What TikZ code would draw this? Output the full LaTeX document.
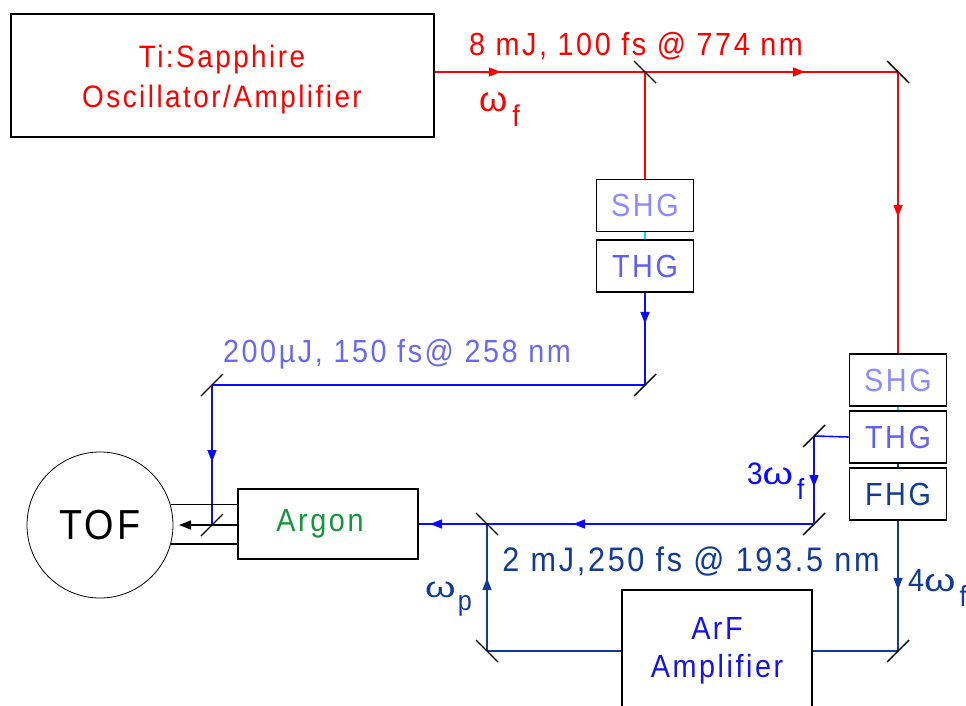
\documentclass[tikz,border=0pt]{standalone}
\usepackage{graphicx}
\usepackage{fontspec}
\setmainfont{Liberation Sans}[LetterSpace=8, FakeStretch=0.9]
\usetikzlibrary{arrows.meta,decorations.markings,calc}
\definecolor{beamred}{RGB}{255,0,0}
\definecolor{beamblue}{RGB}{10,10,255}
\definecolor{navy}{RGB}{18,58,152}
\definecolor{lightblue}{RGB}{140,140,255}
\definecolor{midblue}{RGB}{95,95,250}
\definecolor{labelblue}{RGB}{105,105,245}
\definecolor{arfblue}{RGB}{20,20,235}
\definecolor{argongreen}{RGB}{20,150,60}
\definecolor{cyanline}{RGB}{0,225,225}
\newcommand{\fsz}[1]{\fontsize{#1}{#1}\selectfont}
\newcommand{\wideomega}[1]{\scalebox{#1}[1]{ω}}
\begin{document}
\begin{tikzpicture}[x=1pt,y=-1pt,
  box/.style={draw=black, line width=1.8pt, fill=white, inner sep=0pt, align=center},
  smallbox/.style={box, minimum width=97pt, minimum height=52pt, font=\fsz{32}},
  beam/.style={line width=1.6pt},
  mirrorline/.style={draw=black, line width=1.4pt},
  midarr/.style={postaction={decorate}, decoration={markings, mark=at position #1 with {\arrow{Triangle[length=12pt,width=9pt]}}}}
]
\useasboundingbox (0,0) rectangle (966,706);
\clip (0,0) rectangle (966,706);

% mirror positions
\coordinate (m1) at (645,72);
\coordinate (m2) at (898,72);
\coordinate (m3) at (814,436);
\coordinate (m4) at (814,524);
\coordinate (m5) at (645,385);
\coordinate (m6) at (212,385);
\coordinate (m7) at (212,525);
\coordinate (m8) at (487,524);
\coordinate (m9) at (898,651);
\coordinate (m10) at (487,651);
\coordinate (tofin) at (179,525);

% boxes
\node[box, minimum width=423pt, minimum height=123pt] (ti) at (222.5,75.5) {};
\node[text=beamred, align=center, font=\fontsize{31}{40}\selectfont] (titext) at (222,79) {Ti:Sapphire\\Oscillator/Amplifier};
\node[smallbox, text=lightblue] (shg1) at (645,205.5) {SHG};
\node[smallbox, text=midblue] (thg1) at (645,266) {THG};
\node[smallbox, text=lightblue] (shg2) at (898,380) {SHG};
\node[smallbox, text=midblue] (thg2) at (898,437) {THG};
\node[smallbox, text=navy] (fhg) at (898,494) {FHG};
\node[box, minimum width=180pt, minimum height=70pt, text=argongreen, font=\fsz{32}] (argon) at (328,524) {Argon\hspace*{16pt}};
\node[box, minimum width=190pt, minimum height=122pt, text=arfblue, font=\fontsize{32}{38}\selectfont] (arf) at (717,651) {ArF\\Amplifier};
\node[draw=black, circle, line width=0.8pt, minimum size=146pt, inner sep=0pt, font=\fsz{42}] (tof) at (100,525) {TOF};

% red beams
\draw[beam, beamred, midarr=66pt] (ti.east |- m1) -- (m1);
\draw[beam, beamred, midarr=160pt] (m1) -- (m2);
\draw[beam, beamred] (m1) -- (shg1.north);
\draw[beam, beamred, midarr=145pt] (m2) -- (shg2.north);

% middle harmonic line
\draw[beam, cyanline] (shg1.south) -- (thg1.north);
\draw[beam, beamblue, midarr=31pt] (thg1.south) -- (m5);
\draw[beam, beamblue] (m5) -- (m6);
\draw[beam, beamblue, midarr=77pt] (m6) -- (m7);

% right harmonic stack
\draw[beam, cyanline] (shg2.south) -- (thg2.north);
\draw[beam, navy] (thg2.south) -- (fhg.north);
\draw[beam, beamblue] (thg2.west) -- (m3);
\draw[beam, beamblue, midarr=51pt] (m3) -- (m4);
\draw[beam, beamblue, midarr=241pt] (m4) -- (m8);
\draw[beam, beamblue, midarr=57pt] (m8) -- (argon.east);
\draw[beam, navy, midarr=69pt] (fhg.south) -- (m9);
\draw[beam, navy] (m9) -- (arf.east);
\draw[beam, navy] (arf.west) -- (m10);
\draw[beam, navy, midarr=73pt] (m10) -- (m8);

% TOF inlet tube
\draw[line width=1.4pt] (tof.16) -- (tof.16 -| argon.west);
\draw[line width=1.4pt] (tof.-15) -- (tof.-15 -| argon.west);
\draw[line width=1.4pt, -{Triangle[length=12pt,width=9pt]}] (argon.west |- tofin) -- (tofin);

% mirrors
\foreach \m in {m1,m2,m8,m10}{\draw[mirrorline] ($(\m)+(-11,-11)$) -- ($(\m)+(11,11)$);}
\foreach \m in {m3,m4,m5,m6,m7,m9}{\draw[mirrorline] ($(\m)+(-11,11)$) -- ($(\m)+(11,-11)$);}

% labels
\node[text=beamred, font=\fsz{32}] (lblred) at (636,46) {8 mJ, 100 fs @ 774 nm};
\node[text=beamred, anchor=base west, inner sep=0pt] (wf) at (479,112) {\fsz{35}\wideomega{1.15}\hspace{5pt}\raisebox{-15pt}{\fsz{30}f}};
\node[text=labelblue, font=\fsz{32}] (lbluv) at (397,354) {200µJ, 150 fs@ 258 nm};
\node[text=beamblue, anchor=base west, inner sep=0pt] (w3) at (747,484) {\fsz{31}3\wideomega{1.4}\hspace{4pt}\raisebox{-15pt}{\fsz{29}f}};
\node[text=navy, font=\fsz{34}] (lblarf) at (691,562) {2 mJ,250 fs @ 193.5 nm};
\node[text=navy, anchor=base west, inner sep=0pt] (w4) at (908,591) {\fsz{32}4\wideomega{1.4}\hspace{4pt}\raisebox{-15pt}{\fsz{29}f}};
\node[text=navy, anchor=base west, inner sep=0pt] (wp) at (425,597) {\fsz{29}\wideomega{1.5}\hspace{2pt}\raisebox{-13pt}{\fsz{28}p}};
\end{tikzpicture}
\end{document}
